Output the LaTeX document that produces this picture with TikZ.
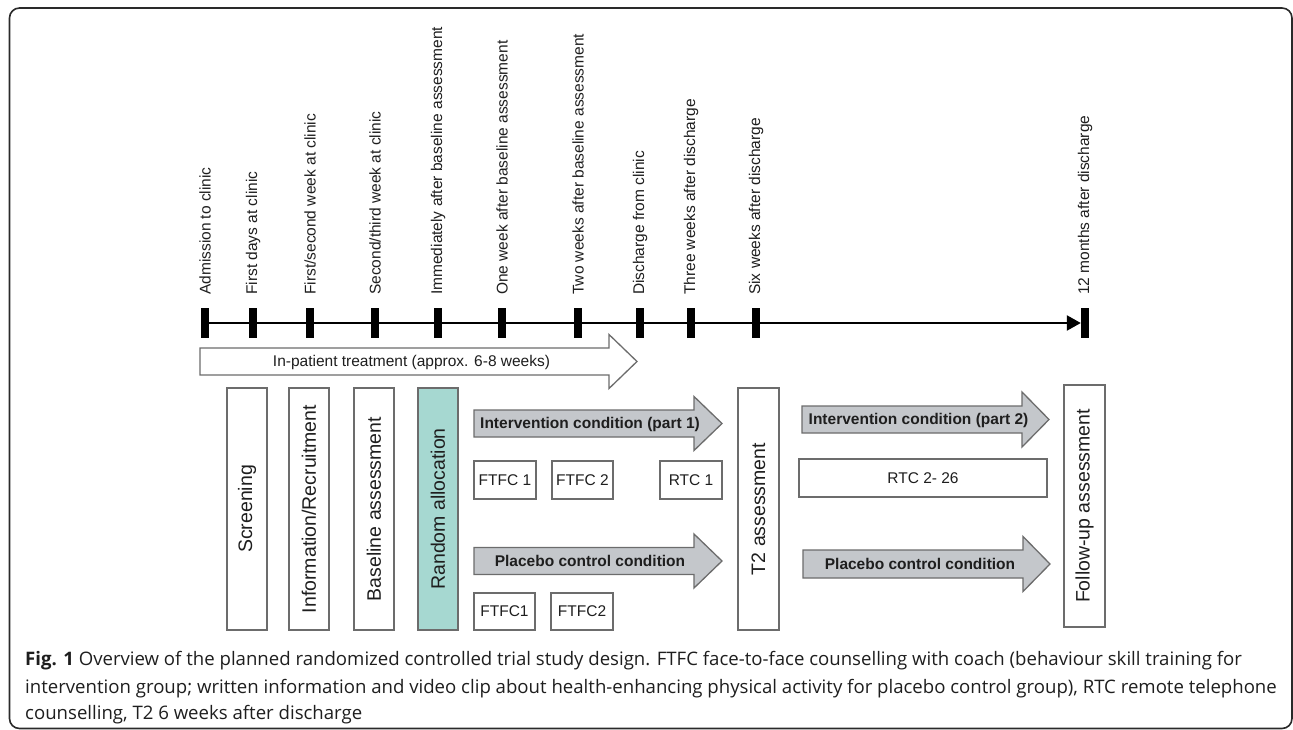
\documentclass[tikz,border=0pt]{standalone}
\usepackage{fontspec}
\setmainfont{Liberation Sans}
\newfontfamily\capfont{Open Sans}
\usetikzlibrary{arrows.meta}
\definecolor{txt}{HTML}{1E1E1E}
\definecolor{boxline}{HTML}{6C6C6C}
\definecolor{grayfill}{HTML}{C4C7CB}
\definecolor{allocfill}{HTML}{A6D8D1}
\definecolor{framecol}{HTML}{2A2A2A}
\newcommand{\fatarrow}[7]{%
  \draw[#1] (#2,{#5-#6}) -- (#3,{#5-#6}) -- (#3,{#5-#7}) -- (#4,#5) -- (#3,{#5+#7}) -- (#3,{#5+#6}) -- (#2,{#5+#6}) -- cycle;}
\begin{document}
\begin{tikzpicture}[x=1pt,y=-1pt,
  tickmark/.style={fill=black, draw=none, minimum width=8pt, minimum height=30pt, inner sep=0pt},
  tlabel/.style={rotate=90, anchor=west, inner sep=0pt, font=\fontsize{15.5}{18}\selectfont, text=txt},
  vbox/.style={draw=boxline, line width=1.3pt, rotate=90, minimum height=40pt, inner sep=0pt, font=\fontsize{19.5}{22}\selectfont, text=txt},
  smallbox/.style={draw=boxline, line width=1.3pt, inner sep=0pt, font=\fontsize{15.5}{18}\selectfont, text=txt, minimum height=38pt},
  grayarrow/.style={draw=boxline, fill=grayfill, line width=1.3pt, line join=miter},
  whitearrow/.style={draw=boxline, fill=white, line width=1.3pt, line join=miter},
  graytext/.style={font=\bfseries\fontsize{15.5}{18}\selectfont, text=txt, inner sep=0pt},
  plaintext/.style={font=\fontsize{15.5}{18}\selectfont, text=txt, inner sep=0pt},
  captext/.style={anchor=base west, inner sep=0pt, font=\capfont\fontsize{18.6}{22}\selectfont, text=txt},
]
\useasboundingbox (0,0) rectangle (1293,730);
% frame
\draw[framecol, line width=1.6pt, rounded corners=10pt] (9.5,8) rectangle (1292,728.5);

% timeline ticks
\foreach \n/\x in {1/205,2/253,3/310,4/375,5/438,6/502,7/578,8/640,9/691,10/756,11/1085}
  \node[tickmark] (t\n) at (\x,323) {};
\draw[line width=2.4pt, -{Triangle[length=14pt,width=15pt]}] (t1.center) -- (t11.west);

% timeline labels
\node[tlabel] (l1) at (205,295) {Admission to clinic};
\node[tlabel] (l2) at (253,295) {First days at clinic};
\node[tlabel] (l3) at (310,295) {First/second week at clinic};
\node[tlabel] (l4) at (375,295) {Second/third week at clinic};
\node[tlabel] (l5) at (438,295) {Immediately after baseline assessment};
\node[tlabel] (l6) at (502,295) {One week after baseline assessment};
\node[tlabel] (l7) at (578,295) {Two weeks after baseline assessment};
\node[tlabel] (l8) at (640,295) {Discharge from clinic};
\node[tlabel] (l9) at (691,295) {Three weeks after discharge};
\node[tlabel] (l10) at (756,295) {Six weeks after discharge};
\node[tlabel] (l11) at (1085,295) {12 months after discharge};

% in-patient arrow
\fatarrow{whitearrow}{200}{609}{637}{361.5}{13.5}{27}
\node[plaintext] (inpat) at (411.5,362) {In-patient treatment (approx. 6-8 weeks)};

% vertical boxes
\node[vbox, minimum width=242pt] (scr) at (247,509) {Screening};
\node[vbox, minimum width=242pt] (info) at (309,509) {Information/Recruitment};
\node[vbox, minimum width=242pt] (base) at (374,509) {Baseline assessment};
\node[vbox, minimum width=242pt, fill=allocfill] (rand) at (438,509) {Random allocation};
\node[vbox, minimum width=242pt, minimum height=41pt] (t2) at (758.5,509) {T2 assessment};
\node[vbox, minimum width=242pt, minimum height=41pt] (fu) at (1084.5,506) {Follow-up assessment};

% gray arrows
\fatarrow{grayarrow}{474}{694}{722}{423.5}{13.5}{27}
\node[graytext] (int1) at (590,424) {Intervention condition (part 1)};
\fatarrow{grayarrow}{474}{694}{722}{561}{13.5}{27}
\node[graytext] (plc1) at (590,561) {Placebo control condition};
\fatarrow{grayarrow}{802}{1022}{1049}{419.5}{13.5}{27.5}
\node[graytext] (int2) at (918.5,420) {Intervention condition (part 2)};
\fatarrow{grayarrow}{803}{1023}{1050}{564}{14}{27.5}
\node[graytext] (plc2) at (920,564) {Placebo control condition};

% small boxes
\node[smallbox, minimum width=62pt] (f1) at (505,480) {FTFC 1};
\node[smallbox, minimum width=61pt] (f2) at (582.5,480) {FTFC 2};
\node[smallbox, minimum width=62pt] (r1) at (691,480) {RTC 1};
\node[smallbox, minimum width=61pt, minimum height=37pt] (pf1) at (504.5,611.5) {FTFC1};
\node[smallbox, minimum width=62pt, minimum height=37pt] (pf2) at (582,611.5) {FTFC2};
\node[smallbox, minimum width=248pt] (r2) at (923,478) {RTC 2- 26};

% caption
\node[captext] (cap1) at (25,665) {\textbf{Fig. 1} Overview of the planned randomized controlled trial study design. FTFC face-to-face counselling with coach (behaviour skill training for};
\node[captext] (cap2) at (25,693) {intervention group; written information and video clip about health-enhancing physical activity for placebo control group), RTC remote telephone};
\node[captext] (cap3) at (25,719.5) {counselling, T2 6 weeks after discharge};
\end{tikzpicture}
\end{document}
